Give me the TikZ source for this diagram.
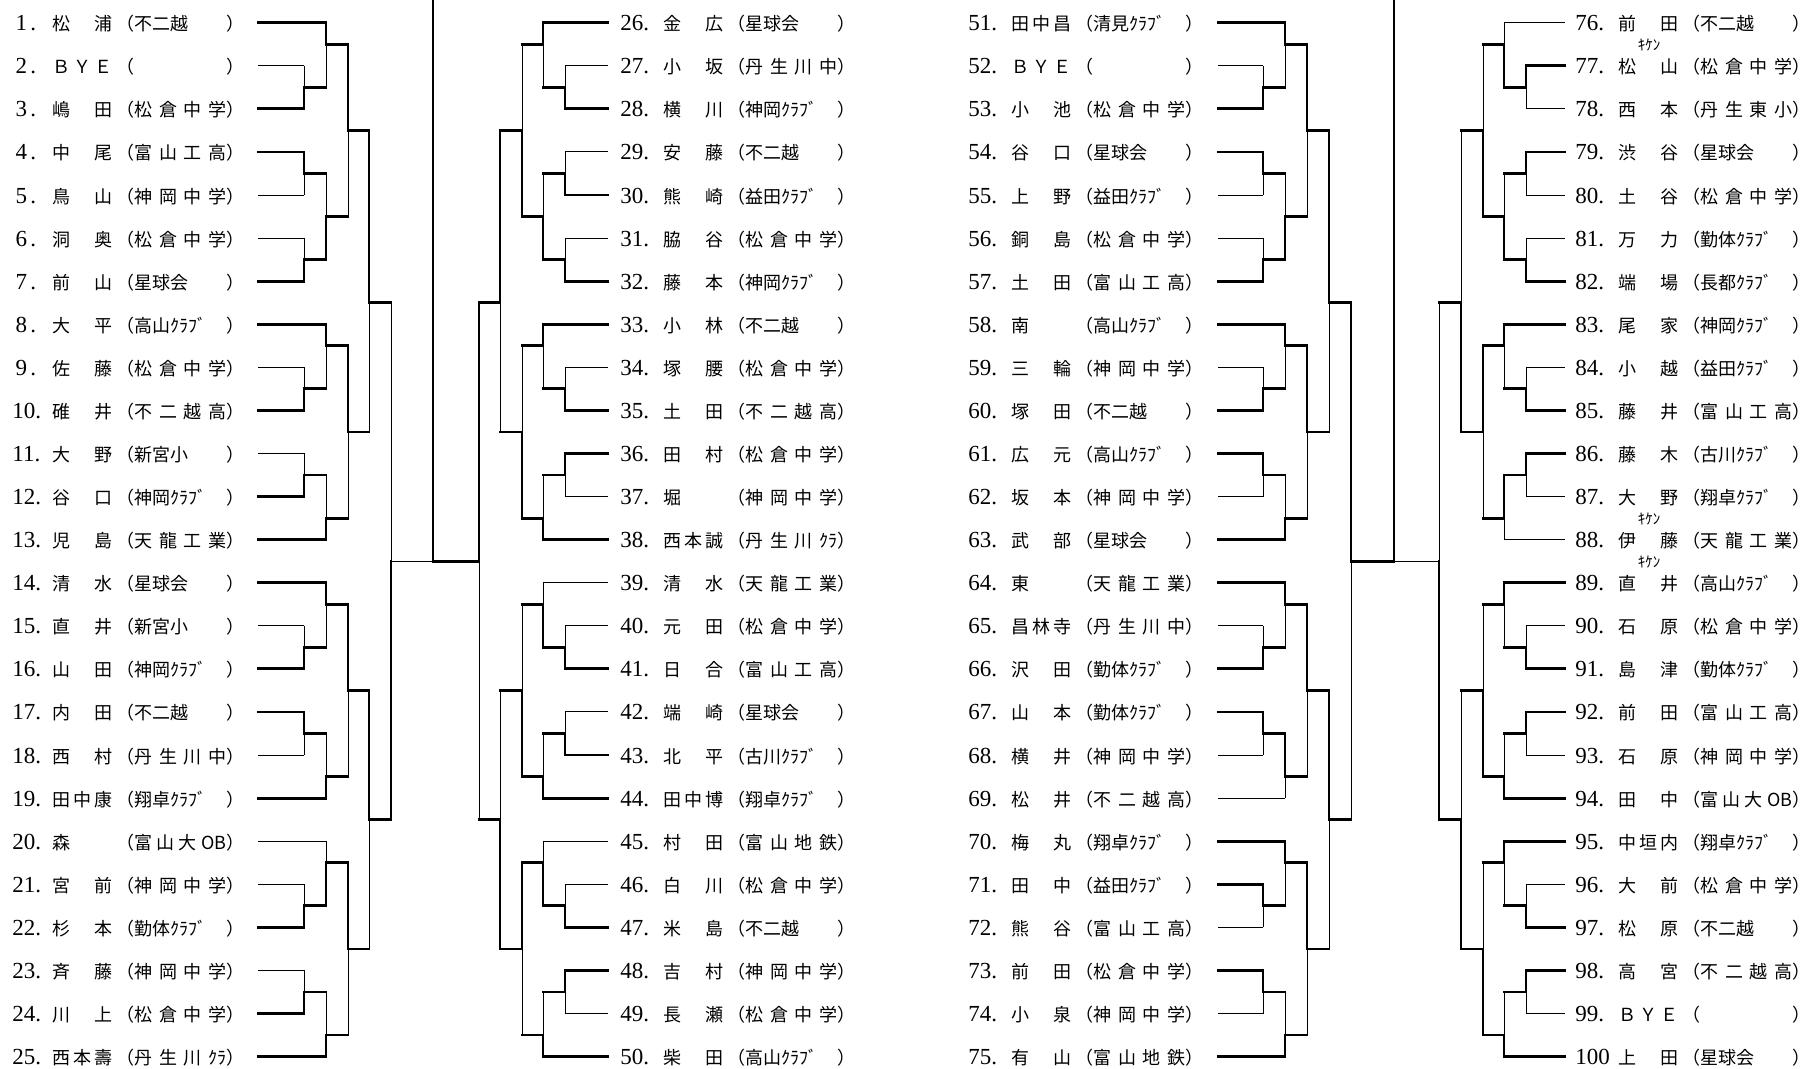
\documentclass[tikz,border=0pt]{standalone}
\usepackage{fontspec}
\setmainfont{Noto Sans CJK JP}
\newfontfamily\numf{Liberation Serif}
\newcommand\ry[1]{(22.7+43.08*((#1)-1))}
\tikzset{
  thk/.style={line width=1.4pt,line cap=rect},
  thn/.style={line width=0.5pt},
  txt/.style={anchor=base west,inner sep=0pt,font=\fontsize{9}{10}\selectfont},
  kk/.style={inner sep=0pt,font=\fontsize{7.5}{8}\selectfont}
}
\newcommand\numfnt{\fontsize{11.5}{12}\numf}
\newcommand\numtxt[1]{\ifnum#1<10 \makebox[9pt]{\numfnt #1}{\numfnt .}\else\ifnum#1=100 {\numfnt 100}\else{\numfnt #1.}\fi\fi}
\newcommand\ent[4]{\node[txt] (n#2) at (\tx,{\ry{#1}+8}) {\makebox[\nw][l]{\numtxt{#2}}\makebox[30pt][s]{#3}\hspace{2pt}（\makebox[46pt][s]{#4}\makebox[4pt][l]{）}};}
% affiliations
\newcommand\aMK{松\hfil 倉\hfil 中\hfil 学}
\newcommand\aFN{不二越\hfill}
\newcommand\aFK{不\hfil 二\hfil 越\hfil 高}
\newcommand\aSK{星球会\hfill}
\newcommand\aTK{富\hfil 山\hfil 工\hfil 高}
\newcommand\aKC{神\hfil 岡\hfil 中\hfil 学}
\newcommand\aTR{天\hfil 龍\hfil 工\hfil 業}
\newcommand\aNK{丹\hfil 生\hfil 川\hfil 中}
\newcommand\aNC{丹\hfil 生\hfil 川\hfil ｸﾗ}
\newcommand\aTC{富\hfil 山\hfil 地\hfil 鉄}
\newcommand\aTO{富\hfil 山\hfil 大\hfil OB}
\newcommand\aSG{新宮小\hfill}
\newcommand\aCL[1]{#1ｸﾗﾌﾞ\hfill}
\newcommand\aNONE{\hfill}
\newcommand\nBYE{Ｂ\hfil Ｙ\hfil Ｅ}
% bracket of one column
\newcommand\drawcol[4]{%
  \def\xl{#1}\def\rs{#2}\def\et{#3}%
  \foreach \lv/\ra/\rb/\ro [count=\i from 0] in {1/2/3/2.5, 2/1/2.5/1.5, 1/4/5/4.5, 1/6/7/6.5, 2/4.5/6.5/5.5, 3/1.5/5.5/3.5, 1/9/10/9.5, 2/8/9.5/8.5, 1/11/12/11.5, 2/11.5/13/12.5, 3/8.5/12.5/10.5, 4/3.5/10.5/7.5, 1/15/16/15.5, 2/14/15.5/14.5, 1/17/18/17.5, 2/17.5/19/18.5, 3/14.5/18.5/16.5, 1/21/22/21.5, 2/20/21.5/20.5, 1/23/24/23.5, 2/23.5/25/24.5, 3/20.5/24.5/22.5, 4/16.5/22.5/19.5, 5/7.5/19.5/13.5}{%
    \pgfmathsetmacro\xx{\xl[\lv]}%
    \pgfmathsetmacro\xn{\xl[\lv+1]}%
    \pgfmathtruncatemacro\rr{\rs[\i]}%
    \ifnum\rr=1
      \draw[thn] (\xx,{\ry{\ro}}) -- (\xx,{\ry{\rb}});
      \draw[thk] (\xx,{\ry{\ra}}) -- (\xx,{\ry{\ro}});
    \else
      \draw[thn] (\xx,{\ry{\ra}}) -- (\xx,{\ry{\ro}});
      \draw[thk] (\xx,{\ry{\ro}}) -- (\xx,{\ry{\rb}});
    \fi
    \ifnum\lv<5 \draw[thk] (\xx,{\ry{\ro}}) -- (\xn,{\ry{\ro}});\fi
  }%
  \foreach \r/\lv [count=\i from 0] in {1/2,2/1,3/1,4/1,5/1,6/1,7/1,8/2,9/1,10/1,11/1,12/1,13/2,14/2,15/1,16/1,17/1,18/1,19/2,20/2,21/1,22/1,23/1,24/1,25/2}{%
    \pgfmathsetmacro\xx{\xl[\lv]}%
    \pgfmathsetmacro\xz{\xl[0]}%
    \pgfmathtruncatemacro\etk{\et[\i]}%
    \ifnum\etk=1 \draw[thk] (\xz,{\ry{\r}}) -- (\xx,{\ry{\r}});
    \else \draw[thn] (\xz,{\ry{\r}}) -- (\xx,{\ry{\r}});\fi
  }%
  \pgfmathsetmacro\xx{\xl[5]}\pgfmathsetmacro\xn{\xl[6]}%
  \ifnum#4=1 \draw[thk] (\xx,{\ry{13.5}}) -- (\xn,{\ry{13.5}});
  \else \draw[thn] (\xx,{\ry{13.5}}) -- (\xn,{\ry{13.5}});\fi
}
\begin{document}
\begin{tikzpicture}[x=0.5pt,y=-0.5pt]
\fill[white] (0,0) rectangle (1812,1069);
\useasboundingbox (0,0) rectangle (1812,1069);
% brackets
\drawcol{{258,304,326,348,369,391,433}}{{0,1,1,0,0,1,0,1,0,0,1,1,0,1,1,0,1,0,0,0,0,1,1,0}}{{1,0,1,1,0,0,1,1,0,1,0,1,1,1,0,1,1,0,1,0,0,1,0,1,1}}{0}
\drawcol{{608,565,543,522,500,479,433}}{{0,1,0,0,0,0,0,1,1,0,0,1,0,0,0,0,0,0,0,1,0,1,0,1}}{{1,0,1,0,1,0,1,1,0,1,1,0,1,0,0,1,0,1,1,0,0,1,1,0,1}}{1}
\drawcol{{1218,1263,1285,1307,1329,1351,1394}}{{0,1,1,0,0,1,0,1,1,0,1,1,0,1,1,1,1,1,1,1,0,1,1,1}}{{1,0,1,1,0,0,1,1,0,1,1,0,1,1,0,1,1,0,0,1,1,0,1,0,1}}{1}
\drawcol{{1565,1526,1504,1483,1461,1439,1394}}{{1,0,1,0,0,0,0,1,1,1,1,0,0,1,1,0,0,0,1,1,0,0,0,0}}{{0,1,0,1,0,0,1,1,0,1,1,0,0,1,0,1,1,0,1,1,0,1,1,0,1}}{0}
\coordinate (topL) at (433,0);
\coordinate (midL) at (433,{\ry{13.5}});
\coordinate (topR) at (1394,0);
\coordinate (midR) at (1394,{\ry{13.5}});
\draw[thk] (topL) -- (midL);
\draw[thk] (topR) -- (midR);
% column A
\def\tx{12}\def\nw{20pt}
\ent{1}{1}{松\hfil 浦}{\aFN}
\ent{2}{2}{\nBYE}{\aNONE}
\ent{3}{3}{嶋\hfil 田}{\aMK}
\ent{4}{4}{中\hfil 尾}{\aTK}
\ent{5}{5}{鳥\hfil 山}{\aKC}
\ent{6}{6}{洞\hfil 奥}{\aMK}
\ent{7}{7}{前\hfil 山}{\aSK}
\ent{8}{8}{大\hfil 平}{\aCL{高山}}
\ent{9}{9}{佐\hfil 藤}{\aMK}
\ent{10}{10}{碓\hfil 井}{\aFK}
\ent{11}{11}{大\hfil 野}{\aSG}
\ent{12}{12}{谷\hfil 口}{\aCL{神岡}}
\ent{13}{13}{児\hfil 島}{\aTR}
\ent{14}{14}{清\hfil 水}{\aSK}
\ent{15}{15}{直\hfil 井}{\aSG}
\ent{16}{16}{山\hfil 田}{\aCL{神岡}}
\ent{17}{17}{内\hfil 田}{\aFN}
\ent{18}{18}{西\hfil 村}{\aNK}
\ent{19}{19}{田\hfil 中\hfil 康}{\aCL{翔卓}}
\ent{20}{20}{森\hfill}{\aTO}
\ent{21}{21}{宮\hfil 前}{\aKC}
\ent{22}{22}{杉\hfil 本}{\aCL{勤体}}
\ent{23}{23}{斉\hfil 藤}{\aKC}
\ent{24}{24}{川\hfil 上}{\aMK}
\ent{25}{25}{西\hfil 本\hfil 壽}{\aNC}
% column B
\def\tx{620}\def\nw{21.5pt}
\ent{1}{26}{金\hfil 広}{\aSK}
\ent{2}{27}{小\hfil 坂}{\aNK}
\ent{3}{28}{横\hfil 川}{\aCL{神岡}}
\ent{4}{29}{安\hfil 藤}{\aFN}
\ent{5}{30}{熊\hfil 崎}{\aCL{益田}}
\ent{6}{31}{脇\hfil 谷}{\aMK}
\ent{7}{32}{藤\hfil 本}{\aCL{神岡}}
\ent{8}{33}{小\hfil 林}{\aFN}
\ent{9}{34}{塚\hfil 腰}{\aMK}
\ent{10}{35}{土\hfil 田}{\aFK}
\ent{11}{36}{田\hfil 村}{\aMK}
\ent{12}{37}{堀\hfill}{\aKC}
\ent{13}{38}{西\hfil 本\hfil 誠}{\aNC}
\ent{14}{39}{清\hfil 水}{\aTR}
\ent{15}{40}{元\hfil 田}{\aMK}
\ent{16}{41}{日\hfil 合}{\aTK}
\ent{17}{42}{端\hfil 崎}{\aSK}
\ent{18}{43}{北\hfil 平}{\aCL{古川}}
\ent{19}{44}{田\hfil 中\hfil 博}{\aCL{翔卓}}
\ent{20}{45}{村\hfil 田}{\aTC}
\ent{21}{46}{白\hfil 川}{\aMK}
\ent{22}{47}{米\hfil 島}{\aFN}
\ent{23}{48}{吉\hfil 村}{\aKC}
\ent{24}{49}{長\hfil 瀬}{\aMK}
\ent{25}{50}{柴\hfil 田}{\aCL{高山}}
% column C
\def\tx{968}\def\nw{21.5pt}
\ent{1}{51}{田\hfil 中\hfil 昌}{\aCL{清見}}
\ent{2}{52}{\nBYE}{\aNONE}
\ent{3}{53}{小\hfil 池}{\aMK}
\ent{4}{54}{谷\hfil 口}{\aSK}
\ent{5}{55}{上\hfil 野}{\aCL{益田}}
\ent{6}{56}{銅\hfil 島}{\aMK}
\ent{7}{57}{土\hfil 田}{\aTK}
\ent{8}{58}{南\hfill}{\aCL{高山}}
\ent{9}{59}{三\hfil 輪}{\aKC}
\ent{10}{60}{塚\hfil 田}{\aFN}
\ent{11}{61}{広\hfil 元}{\aCL{高山}}
\ent{12}{62}{坂\hfil 本}{\aKC}
\ent{13}{63}{武\hfil 部}{\aSK}
\ent{14}{64}{東\hfill}{\aTR}
\ent{15}{65}{昌\hfil 林\hfil 寺}{\aNK}
\ent{16}{66}{沢\hfil 田}{\aCL{勤体}}
\ent{17}{67}{山\hfil 本}{\aCL{勤体}}
\ent{18}{68}{横\hfil 井}{\aKC}
\ent{19}{69}{松\hfil 井}{\aFK}
\ent{20}{70}{梅\hfil 丸}{\aCL{翔卓}}
\ent{21}{71}{田\hfil 中}{\aCL{益田}}
\ent{22}{72}{熊\hfil 谷}{\aTK}
\ent{23}{73}{前\hfil 田}{\aMK}
\ent{24}{74}{小\hfil 泉}{\aKC}
\ent{25}{75}{有\hfil 山}{\aTC}
% column D
\def\tx{1575}\def\nw{21.5pt}
\ent{1}{76}{前\hfil 田}{\aFN}
\ent{2}{77}{松\hfil 山}{\aMK}
\ent{3}{78}{西\hfil 本}{丹\hfil 生\hfil 東\hfil 小}
\ent{4}{79}{渋\hfil 谷}{\aSK}
\ent{5}{80}{土\hfil 谷}{\aMK}
\ent{6}{81}{万\hfil 力}{\aCL{勤体}}
\ent{7}{82}{端\hfil 場}{\aCL{長都}}
\ent{8}{83}{尾\hfil 家}{\aCL{神岡}}
\ent{9}{84}{小\hfil 越}{\aCL{益田}}
\ent{10}{85}{藤\hfil 井}{\aTK}
\ent{11}{86}{藤\hfil 木}{\aCL{古川}}
\ent{12}{87}{大\hfil 野}{\aCL{翔卓}}
\ent{13}{88}{伊\hfil 藤}{\aTR}
\ent{14}{89}{直\hfil 井}{\aCL{高山}}
\ent{15}{90}{石\hfil 原}{\aMK}
\ent{16}{91}{島\hfil 津}{\aCL{勤体}}
\ent{17}{92}{前\hfil 田}{\aTK}
\ent{18}{93}{石\hfil 原}{\aKC}
\ent{19}{94}{田\hfil 中}{\aTO}
\ent{20}{95}{中\hfil 垣\hfil 内}{\aCL{翔卓}}
\ent{21}{96}{大\hfil 前}{\aMK}
\ent{22}{97}{松\hfil 原}{\aFN}
\ent{23}{98}{高\hfil 宮}{\aFK}
\ent{24}{99}{\nBYE}{\aNONE}
\ent{25}{100}{上\hfil 田}{\aSK}
% kiken marks
\node[kk] (k77) at (1649,{\ry{2}-21}) {ｷｹﾝ};
\node[kk] (k88) at (1649,{\ry{13}-21}) {ｷｹﾝ};
\node[kk] (k89) at (1649,{\ry{14}-21}) {ｷｹﾝ};
\end{tikzpicture}
\end{document}
